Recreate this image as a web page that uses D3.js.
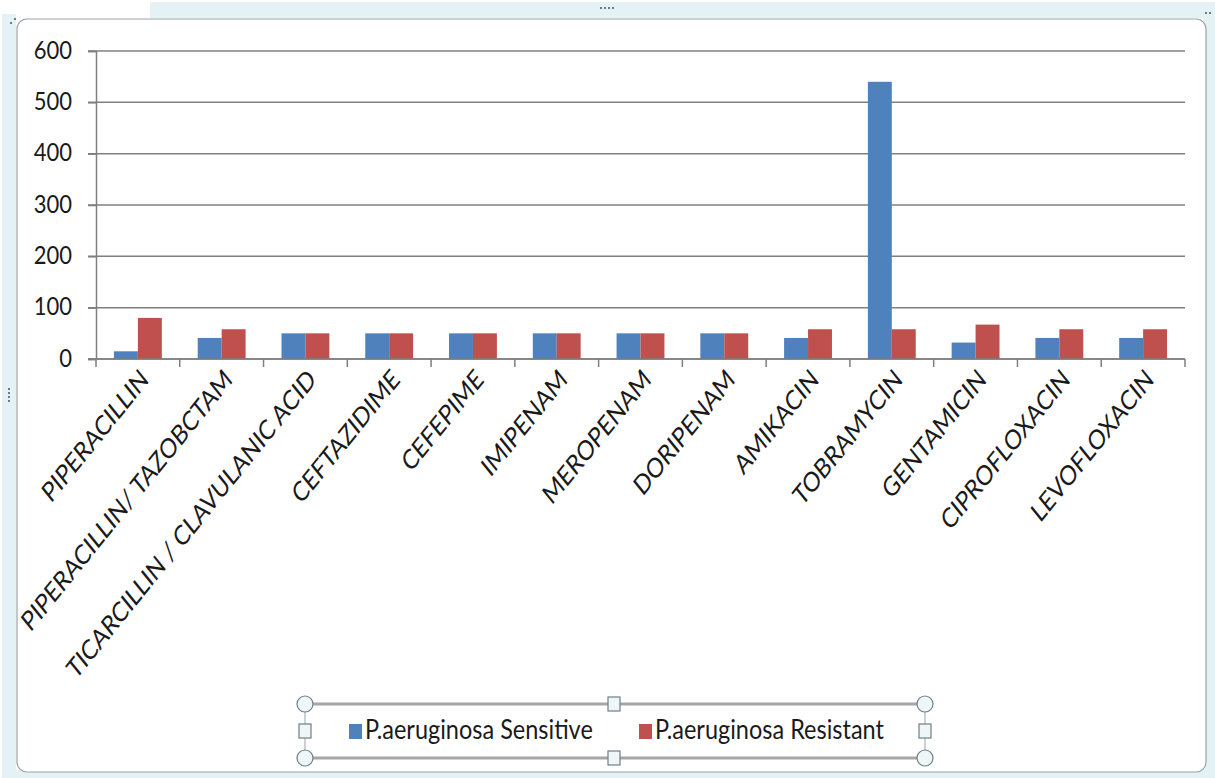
<!DOCTYPE html>
<html>
<head>
<meta charset="utf-8">
<script src="https://cdn.jsdelivr.net/npm/d3@7"></script>
<style>
  html, body { margin: 0; padding: 0; background: #ffffff; }
  svg { display: block; }
  text { font-family: Lato, "Open Sans", sans-serif; fill: #1a1a1a; }
</style>
</head>
<body>
<svg id="chart" width="1215" height="778"></svg>
<script>
// Antibiotic susceptibility of P. aeruginosa isolates
const categories = [
  "PIPERACILLIN", "PIPERACILLIN/ TAZOBCTAM", "TICARCILLIN / CLAVULANIC ACID",
  "CEFTAZIDIME", "CEFEPIME", "IMIPENAM", "MEROPENAM", "DORIPENAM",
  "AMIKACIN", "TOBRAMYCIN", "GENTAMICIN", "CIPROFLOXACIN", "LEVOFLOXACIN"
];
const sensitive = [15, 41, 50, 50, 50, 50, 50, 50, 41, 540, 32, 41, 41];
const resistant = [80, 58, 50, 50, 50, 50, 50, 50, 58, 58, 67, 58, 58];
const seriesNames = ["P.aeruginosa Sensitive", "P.aeruginosa Resistant"];
const seriesColors = ["#4f81bd", "#c0504d"];
const yTicks = [0, 100, 200, 300, 400, 500, 600];

const W = 1215, H = 778;
const plot = { left: 96, right: 1185, top: 51, bottom: 359 };
const textStretch = 1.12;
const labelStretch = 1.24;

const svg = d3.select("#chart");

// ---- chart frame (selected-chart look) ----
svg.append("rect").attr("x", 0).attr("y", 0).attr("width", W).attr("height", H)
  .attr("fill", "#ffffff");
svg.append("rect").attr("x", 150).attr("y", 2).attr("width", W - 150).attr("height", 16)
  .attr("fill", "#e4f1f5");
svg.append("rect").attr("x", 2).attr("y", 14).attr("width", 14).attr("height", H - 14)
  .attr("fill", "#e4f1f5");
svg.append("rect").attr("x", W - 12).attr("y", 2).attr("width", 12).attr("height", H - 2)
  .attr("fill", "#e4f1f5");
svg.append("rect").attr("x", 2).attr("y", H - 8).attr("width", W - 2).attr("height", 8)
  .attr("fill", "#e4f1f5");
svg.append("rect").attr("x", 17).attr("y", 19).attr("width", W - 17 - 9).attr("height", H - 19 - 6)
  .attr("rx", 10).attr("ry", 10)
  .attr("fill", "#ffffff").attr("stroke", "#9aa3a8").attr("stroke-width", 1.2);

// sizing handles on the frame
const dotGroup = svg.append("g").attr("fill", "#6b7b84");
[0, 1, 2, 3].forEach(i => {
  dotGroup.append("rect").attr("x", 600 + i * 4).attr("y", 7).attr("width", 2).attr("height", 2);
  dotGroup.append("rect").attr("x", 8).attr("y", 388 + i * 4).attr("width", 2).attr("height", 2);
});
dotGroup.append("rect").attr("x", 10).attr("y", 22).attr("width", 2).attr("height", 2);
dotGroup.append("rect").attr("x", 14).attr("y", 18).attr("width", 2).attr("height", 2);
dotGroup.append("rect").attr("x", 1205).attr("y", 12).attr("width", 2).attr("height", 2);
dotGroup.append("rect").attr("x", 1209).attr("y", 12).attr("width", 2).attr("height", 2);

// ---- scales ----
const x0 = d3.scaleBand().domain(categories).range([plot.left, plot.right]).padding(0);
const x1 = d3.scaleBand().domain([0, 1]).range([0, x0.bandwidth()])
  .paddingInner(0).paddingOuter(0.75);
const y = d3.scaleLinear().domain([0, 600]).range([plot.bottom, plot.top]);

// ---- gridlines and y axis ----
const grid = svg.append("g");
grid.selectAll("line").data(yTicks).join("line")
  .attr("x1", plot.left - 8).attr("x2", plot.right)
  .attr("y1", d => y(d)).attr("y2", d => y(d))
  .attr("stroke", "#7f7f7f").attr("stroke-width", 1.5);

const yAxis = svg.append("g").attr("transform", `translate(${plot.left},0)`)
  .call(d3.axisLeft(y).tickValues(yTicks).tickSize(8).tickPadding(16));
yAxis.select(".domain").attr("stroke", "#7f7f7f").attr("stroke-width", 1.5);
yAxis.selectAll(".tick line").attr("stroke", "#7f7f7f").attr("stroke-width", 1.5);
yAxis.selectAll(".tick text")
  .attr("font-size", 22).attr("fill", "#1a1a1a")
  .attr("dy", null)
  .attr("transform", `scale(1,${textStretch})`)
  .attr("y", 7 / textStretch);

// ---- bars ----
const rows = categories.map((c, i) => ({ cat: c, values: [sensitive[i], resistant[i]] }));
const groups = svg.append("g").selectAll("g").data(rows).join("g")
  .attr("transform", d => `translate(${x0(d.cat)},0)`);
groups.selectAll("rect").data(d => d.values.map((v, k) => ({ k, v }))).join("rect")
  .attr("x", d => x1(d.k))
  .attr("width", x1.bandwidth())
  .attr("y", d => y(d.v))
  .attr("height", d => y(0) - y(d.v))
  .attr("fill", d => seriesColors[d.k]);

// ---- x axis ----
const boundaries = categories.map(c => x0(c)).concat([plot.right]);
const xAxis = svg.append("g");
xAxis.append("line")
  .attr("x1", plot.left - 8).attr("x2", plot.right)
  .attr("y1", y(0)).attr("y2", y(0))
  .attr("stroke", "#7f7f7f").attr("stroke-width", 1.5);
xAxis.selectAll("line.tick").data(boundaries).join("line").attr("class", "tick")
  .attr("x1", d => d).attr("x2", d => d)
  .attr("y1", y(0)).attr("y2", y(0) + 8)
  .attr("stroke", "#7f7f7f").attr("stroke-width", 1.5);

xAxis.selectAll("text").data(categories).join("text")
  .attr("text-anchor", "end")
  .attr("font-size", 22)
  .attr("transform", d => `translate(${x0(d) + x0.bandwidth() / 2 + 12},${y(0) + 22}) scale(1,${labelStretch}) rotate(-45)`)
  .text(d => d);

// ---- legend with selection handles ----
const lg = { left: 305, right: 925, top: 704, bottom: 758 };
const legend = svg.append("g");
legend.append("rect")
  .attr("x", lg.left).attr("y", lg.top)
  .attr("width", lg.right - lg.left).attr("height", lg.bottom - lg.top)
  .attr("fill", "#ffffff");
[lg.top, lg.bottom].forEach(yy => {
  legend.append("line").attr("x1", lg.left).attr("x2", lg.right)
    .attr("y1", yy).attr("y2", yy)
    .attr("stroke", "#a6a6a6").attr("stroke-width", 3);
});
[lg.left, lg.right].forEach(xx => {
  legend.append("line").attr("x1", xx).attr("x2", xx)
    .attr("y1", lg.top).attr("y2", lg.bottom)
    .attr("stroke", "#9aa3a8").attr("stroke-width", 1);
});
const midX = (lg.left + lg.right) / 2 - 1, midY = (lg.top + lg.bottom) / 2;
[[lg.left, lg.top], [lg.right, lg.top], [lg.left, lg.bottom], [lg.right, lg.bottom]].forEach(([cx, cy]) => {
  legend.append("circle").attr("cx", cx).attr("cy", cy).attr("r", 8)
    .attr("fill", "#eef6f8").attr("stroke", "#6f7f86").attr("stroke-width", 1.2);
});
[[midX, lg.top], [midX, lg.bottom], [lg.left, midY], [lg.right, midY]].forEach(([cx, cy]) => {
  legend.append("rect").attr("x", cx - 6).attr("y", cy - 7).attr("width", 12).attr("height", 14)
    .attr("fill", "#eef6f8").attr("stroke", "#6f7f86").attr("stroke-width", 1.2);
});

const legendItems = [{ x: 349 }, { x: 639 }];
legendItems.forEach((it, i) => {
  legend.append("rect").attr("x", it.x).attr("y", midY - 7).attr("width", 13).attr("height", 15)
    .attr("fill", seriesColors[i]);
  legend.append("text")
    .attr("transform", `translate(${it.x + 16},${midY + 8}) scale(1,${textStretch})`)
    .attr("font-size", 23.5)
    .text(seriesNames[i]);
});
</script>
</body>
</html>
